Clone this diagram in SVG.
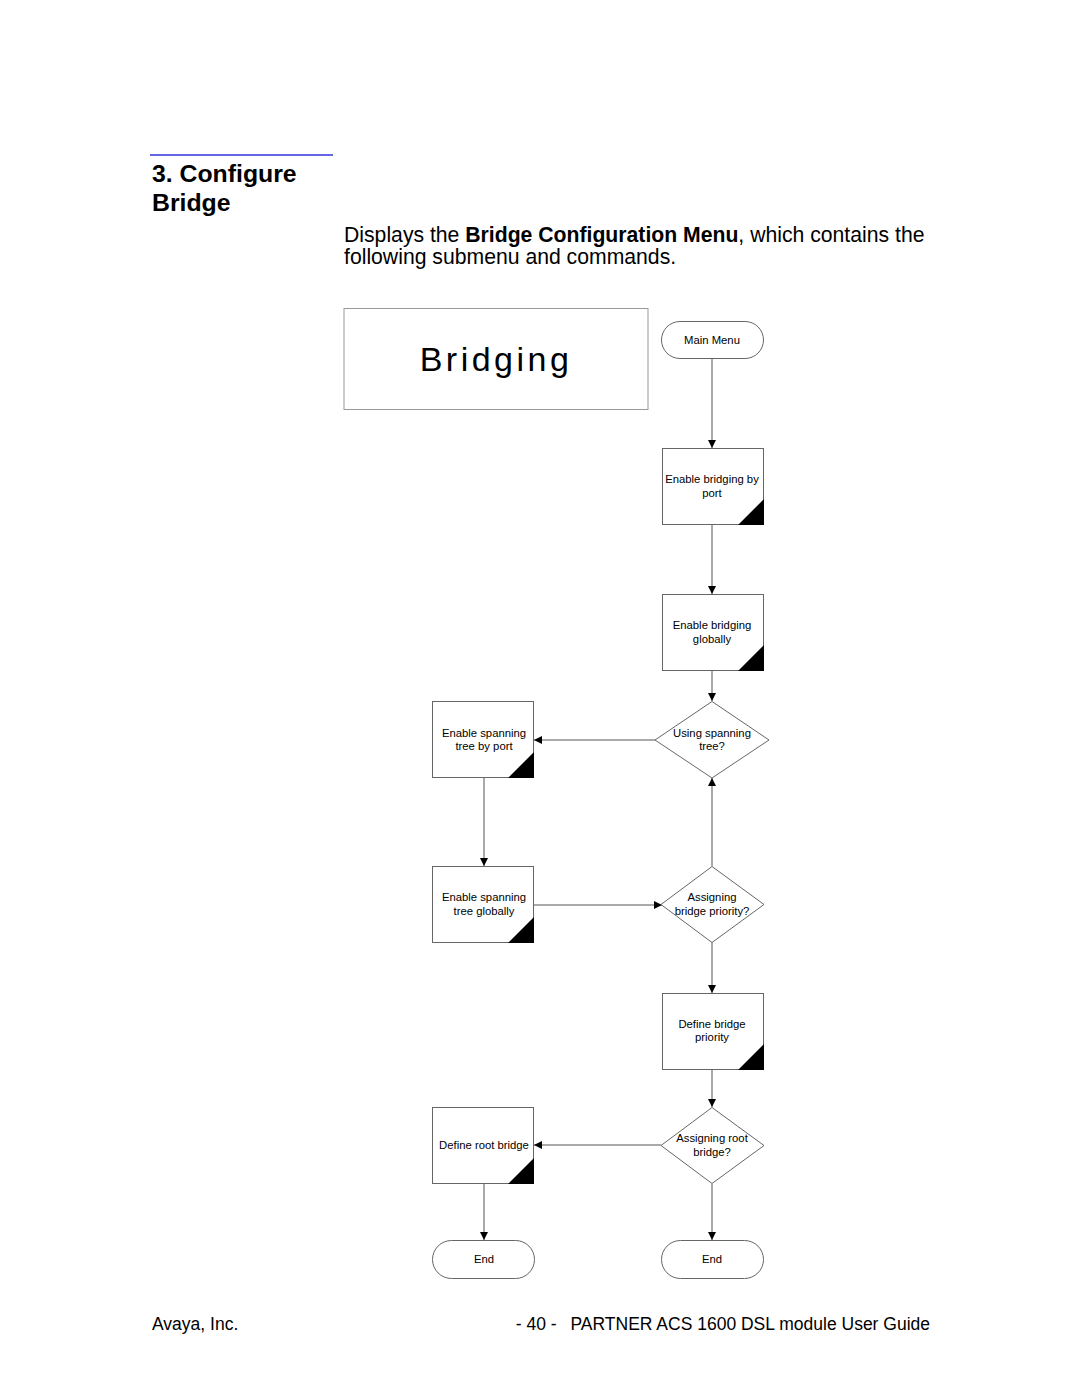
<svg xmlns="http://www.w3.org/2000/svg" width="1080" height="1397" viewBox="0 0 1080 1397">
<style>
text{font-family:"Liberation Sans",Arial,sans-serif;fill:#000}
.n{font-size:11.3px;text-anchor:middle}
.box{fill:#fff;stroke:#666;stroke-width:1}
.tri{fill:#000}
.c{stroke:#555;stroke-width:1;fill:none}
</style>
<defs>
<marker id="ah" viewBox="0 0 10 10" refX="10" refY="5" markerWidth="8" markerHeight="8" markerUnits="userSpaceOnUse" orient="auto">
<path d="M0,0 L10,5 L0,10 z" fill="#000"/>
</marker>
</defs>
<rect width="1080" height="1397" fill="#fff"/>
<line x1="150" y1="155" x2="333" y2="155" stroke="#3333dd" stroke-width="1.5"/>
<text x="152" y="182" font-size="24.8" font-weight="bold">3. Configure</text>
<text x="152" y="211" font-size="24.8" font-weight="bold">Bridge</text>
<text x="344" y="242" font-size="21.2">Displays the <tspan font-weight="bold">Bridge Configuration Menu</tspan>, which contains the</text>
<text x="344" y="264" font-size="21.2">following submenu and commands.</text>

<g id="title">
<rect x="344" y="308.5" width="304" height="101" fill="#fff" stroke="#999"/>
<text x="496" y="371" font-size="34" text-anchor="middle" letter-spacing="3.5">Bridging</text>
</g>

<g id="connectors">
<line class="c" x1="712" y1="359" x2="712" y2="448" marker-end="url(#ah)"/>
<line class="c" x1="712" y1="525" x2="712" y2="594" marker-end="url(#ah)"/>
<line class="c" x1="712" y1="670" x2="712" y2="701" marker-end="url(#ah)"/>
<line class="c" x1="655" y1="740" x2="534" y2="740" marker-end="url(#ah)"/>
<line class="c" x1="484" y1="778" x2="484" y2="866" marker-end="url(#ah)"/>
<line class="c" x1="534" y1="905" x2="662" y2="905" marker-end="url(#ah)"/>
<line class="c" x1="712" y1="866" x2="712" y2="778" marker-end="url(#ah)"/>
<line class="c" x1="712" y1="942" x2="712" y2="993" marker-end="url(#ah)"/>
<line class="c" x1="712" y1="1069" x2="712" y2="1107" marker-end="url(#ah)"/>
<line class="c" x1="661" y1="1145" x2="534" y2="1145" marker-end="url(#ah)"/>
<line class="c" x1="484" y1="1183" x2="484" y2="1240" marker-end="url(#ah)"/>
<line class="c" x1="712" y1="1184" x2="712" y2="1240" marker-end="url(#ah)"/>
</g>

<g id="main-menu">
<rect class="box" x="661.5" y="321.5" width="102" height="37" rx="18.5"/>
<text class="n" x="712" y="344">Main Menu</text>
</g>
<g id="enable-bridging-port">
<rect class="box" x="662.5" y="448.5" width="101" height="76"/>
<path class="tri" d="M738,525 L764,525 L764,499 z"/>
<text class="n" x="712" y="483">Enable bridging by</text>
<text class="n" x="712" y="497">port</text>
</g>
<g id="enable-bridging-global">
<rect class="box" x="662.5" y="594.5" width="101" height="76"/>
<path class="tri" d="M738,671 L764,671 L764,645 z"/>
<text class="n" x="712" y="629">Enable bridging</text>
<text class="n" x="712" y="643">globally</text>
</g>
<g id="using-spanning">
<path class="box" d="M712,701.5 L769,740 L712,778 L655,740 z"/>
<text class="n" x="712" y="737">Using spanning</text>
<text class="n" x="712" y="750">tree?</text>
</g>
<g id="spanning-port">
<rect class="box" x="432.5" y="701.5" width="101" height="76"/>
<path class="tri" d="M508,778 L534,778 L534,752 z"/>
<text class="n" x="484" y="737">Enable spanning</text>
<text class="n" x="484" y="750">tree by port</text>
</g>
<g id="spanning-global">
<rect class="box" x="432.5" y="866.5" width="101" height="76"/>
<path class="tri" d="M508,943 L534,943 L534,917 z"/>
<text class="n" x="484" y="901">Enable spanning</text>
<text class="n" x="484" y="915">tree globally</text>
</g>
<g id="assign-priority">
<path class="box" d="M712,866.5 L764,904.5 L712,942.5 L661,904.5 z"/>
<text class="n" x="712" y="901">Assigning</text>
<text class="n" x="712" y="915">bridge priority?</text>
</g>
<g id="define-priority">
<rect class="box" x="662.5" y="993.5" width="101" height="76"/>
<path class="tri" d="M738,1070 L764,1070 L764,1044 z"/>
<text class="n" x="712" y="1028">Define bridge</text>
<text class="n" x="712" y="1041">priority</text>
</g>
<g id="assign-root">
<path class="box" d="M712,1107.5 L764,1145.5 L712,1183.5 L661,1145.5 z"/>
<text class="n" x="712" y="1142">Assigning root</text>
<text class="n" x="712" y="1156">bridge?</text>
</g>
<g id="define-root">
<rect class="box" x="432.5" y="1107.5" width="101" height="76"/>
<path class="tri" d="M508,1184 L534,1184 L534,1158 z"/>
<text class="n" x="484" y="1149">Define root bridge</text>
</g>
<g id="end-left">
<rect class="box" x="432.5" y="1240.5" width="102" height="38" rx="19"/>
<text class="n" x="484" y="1263">End</text>
</g>
<g id="end-right">
<rect class="box" x="661.5" y="1240.5" width="102" height="38" rx="19"/>
<text class="n" x="712" y="1263">End</text>
</g>

<text x="152" y="1330" font-size="17.5">Avaya, Inc.</text>
<text x="930" y="1330" font-size="17.5" text-anchor="end">- 40 - <tspan dx="9">PARTNER ACS 1600 DSL module User Guide</tspan></text>
</svg>
